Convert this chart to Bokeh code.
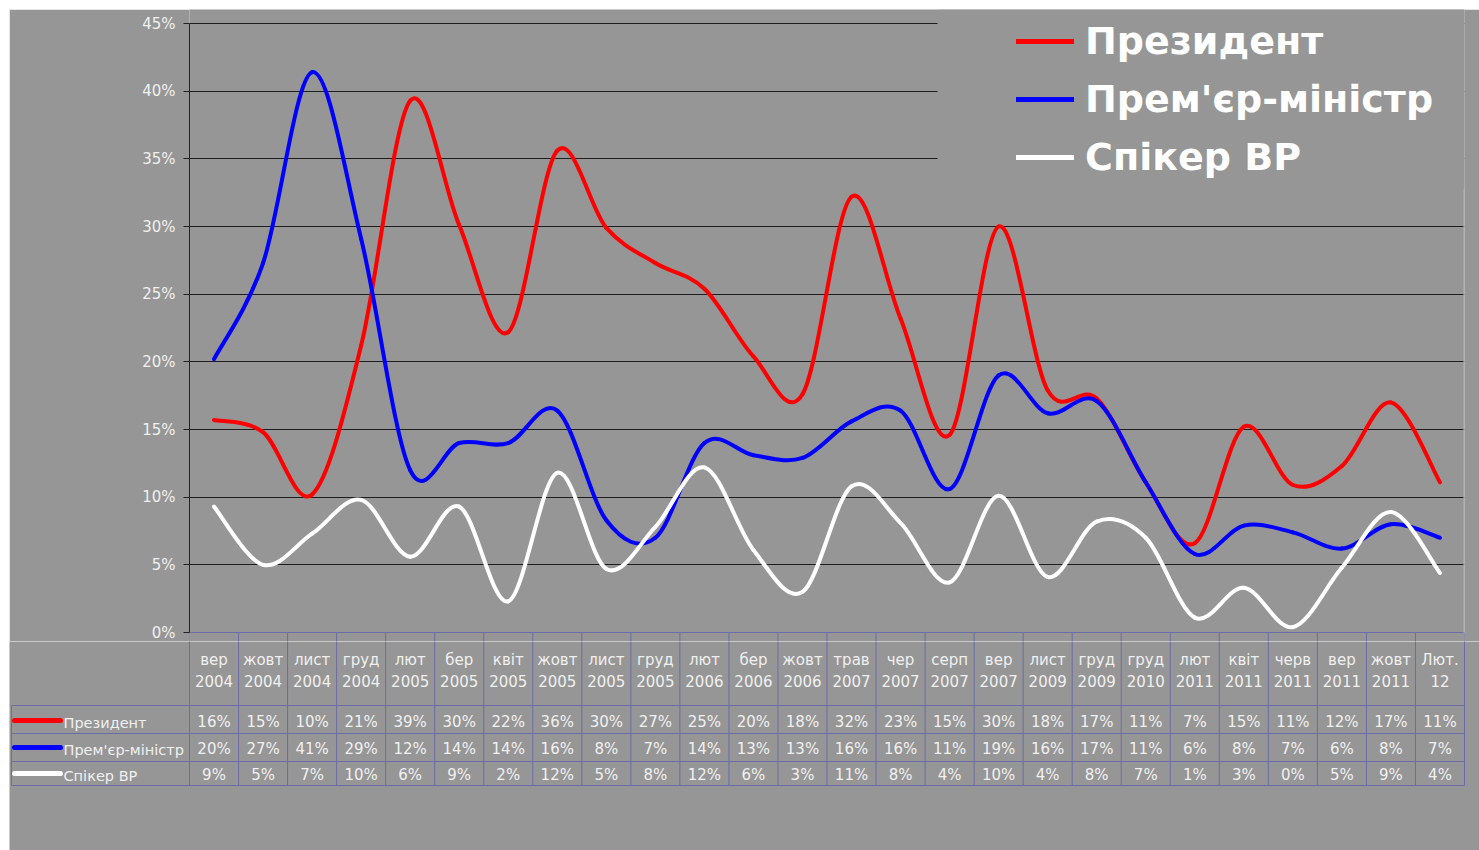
from bokeh.plotting import figure
from bokeh.models import (Range1d, FixedTicker, PrintfTickFormatter, Legend,
                          LegendItem, BoxAnnotation, ColumnDataSource)
from bokeh.embed import file_html
from bokeh.resources import INLINE
from bokeh.core.properties import value

# ---------------- data ----------------
categories = ["вер 2004", "жовт 2004", "лист 2004", "груд 2004", "лют 2005",
              "бер 2005", "квіт 2005", "жовт 2005", "лист 2005", "груд 2005",
              "лют 2006", "бер 2006", "жовт 2006", "трав 2007", "чер 2007",
              "серп 2007", "вер 2007", "лист 2009", "груд 2009", "груд 2010",
              "лют 2011", "квіт 2011", "черв 2011", "вер 2011", "жовт 2011",
              "Лют. 12"]

president = [15.7, 14.8, 10.2, 21.2, 39.3, 30.1, 22.2, 35.6, 29.9, 27.3,
             25.4, 20.4, 17.6, 32.2, 23.2, 14.6, 30.0, 17.9, 17.3, 11.1,
             6.6, 15.2, 10.9, 12.3, 17.0, 11.1]
premier = [20.2, 27.3, 41.4, 29.1, 12.0, 14.0, 14.0, 16.4, 8.3, 7.0,
           14.0, 13.1, 12.9, 15.6, 16.4, 10.6, 19.0, 16.2, 17.1, 11.1,
           5.8, 7.9, 7.4, 6.2, 8.0, 7.0]
speaker = [9.3, 5.0, 7.3, 9.8, 5.6, 9.3, 2.3, 11.8, 4.7, 7.8,
           12.2, 6.1, 3.0, 10.8, 8.1, 3.7, 10.1, 4.1, 8.2, 7.0,
           1.1, 3.3, 0.4, 4.8, 8.9, 4.4]

series_names = ["Президент", "Прем'єр-міністр", "Спікер ВР"]
series_values = [president, premier, speaker]
series_colors = ["#ff0000", "#0000ff", "#ffffff"]

y_ticks = [0, 5, 10, 15, 20, 25, 30, 35, 40, 45]

# ---------------- styling / layout ----------------
BG = "#969696"
TXT = "#f0f0f0"
TABLE_LINE = "#6c6ca8"
FONT = "DejaVu Sans"

OFF = 9                    # white strip at top/left of the original
FIG_W = 1470
FRAME_L = 180
FRAME_R = 15
TOP_PAD = 14               # px above the 45% line
PLOT_H = 609               # 45% .. 0% in pixels
EXTRA = 9                  # strip below 0% kept inside the chart figure
FIG_A_H = TOP_PAD + PLOT_H + EXTRA
FIG_B_H = 850 - OFF - FIG_A_H
FRAME_W = FIG_W - FRAME_L - FRAME_R
N = len(categories)
K = FRAME_W / N            # px per category
Y_MAX = y_ticks[-1]
PX_PER_Y = PLOT_H / Y_MAX
X0_PX = OFF + FRAME_L      # canvas x of frame left (189)
Y0_PX = OFF + TOP_PAD + PLOT_H   # canvas y of the 0% line (632)
Y_EXTRA = EXTRA / PX_PER_Y
Y_TOP_PAD = TOP_PAD / PX_PER_Y


def px_to_x(px):
    return 0.5 + (px - X0_PX) / K


def smooth_segments(ys):
    """Excel-like smoothed line: Catmull-Rom -> cubic Bezier control points."""
    n = len(ys)
    xs = [i + 1 for i in range(n)]
    d = dict(x0=[], y0=[], x1=[], y1=[], cx0=[], cy0=[], cx1=[], cy1=[])
    for i in range(n - 1):
        im, ip2 = max(i - 1, 0), min(i + 2, n - 1)
        d["x0"].append(xs[i]); d["y0"].append(ys[i])
        d["x1"].append(xs[i + 1]); d["y1"].append(ys[i + 1])
        d["cx0"].append(xs[i] + (xs[i + 1] - xs[im]) / 6)
        d["cy0"].append(ys[i] + (ys[i + 1] - ys[im]) / 6)
        d["cx1"].append(xs[i + 1] - (xs[ip2] - xs[i]) / 6)
        d["cy1"].append(ys[i + 1] - (ys[ip2] - ys[i]) / 6)
    return ColumnDataSource(d)


# ---------------- chart ----------------
pA = figure(width=FIG_W, height=FIG_A_H, x_range=Range1d(0.5, N + 0.5),
            y_range=Range1d(-Y_EXTRA, Y_MAX + Y_TOP_PAD), x_axis_location=None,
            output_backend="svg", toolbar_location=None,
            min_border_left=FRAME_L, min_border_right=FRAME_R,
            min_border_top=0, min_border_bottom=0)
pA.margin = (OFF, 0, 0, OFF)
pA.background_fill_color = BG
pA.border_fill_color = BG
pA.outline_line_color = None
pA.xgrid.visible = False

pA.yaxis.ticker = FixedTicker(ticks=y_ticks)
pA.yaxis.bounds = (0, Y_MAX)
pA.yaxis.formatter = PrintfTickFormatter(format="%d%%")
pA.yaxis.axis_line_color = "#222222"
pA.yaxis.major_tick_line_color = "#222222"
pA.yaxis.major_tick_out = 6
pA.yaxis.major_tick_in = 0
pA.yaxis.minor_tick_line_color = None
pA.yaxis.major_label_text_font = FONT
pA.yaxis.major_label_text_font_size = "15px"
pA.yaxis.major_label_text_color = TXT
pA.yaxis.major_label_standoff = 8

pA.ygrid.ticker = FixedTicker(ticks=y_ticks[1:])
pA.ygrid.grid_line_color = "#1e1e1e"
pA.ygrid.grid_line_width = 1

# top of the data table (falls inside the chart figure)
xb = [0.5 + i for i in range(N + 1)]
pA.segment(x0=xb, y0=[0] * len(xb), x1=xb, y1=[-Y_EXTRA * 2] * len(xb),
           line_color=TABLE_LINE, line_width=1)
pA.segment(x0=[0.5], y0=[0], x1=[N + 0.5], y1=[0],
           line_color=TABLE_LINE, line_width=1)

for vals, col in zip(series_values, series_colors):
    pA.bezier(x0="x0", y0="y0", x1="x1", y1="y1", cx0="cx0", cy0="cy0",
              cx1="cx1", cy1="cy1", source=smooth_segments(vals),
              line_color=col, line_width=4, line_cap="round")

# gray panel behind the legend (hides gridlines, as in the original)
legend_bottom_px = 188
cover_bottom = (Y0_PX - legend_bottom_px) / PX_PER_Y
pA.add_layout(BoxAnnotation(left=px_to_x(937), bottom=cover_bottom,
                            fill_color=BG, fill_alpha=1.0, line_color=None))
# light right edge of the plot area below the legend
pA.segment(x0=[N + 0.5], y0=[0], x1=[N + 0.5], y1=[cover_bottom],
           line_color="#b4b4b4", line_width=2)

leg_items = []
for name, col, vals in zip(series_names, series_colors, series_values):
    r = pA.line(x=[1], y=[vals[0]], line_color=col, line_width=5,
                line_cap="round")
    leg_items.append(LegendItem(label=name, renderers=[r]))

legend = Legend(items=leg_items,
                location=(1016 - X0_PX, Y0_PX + EXTRA - legend_bottom_px + 8),
                orientation="vertical",
                glyph_width=58, glyph_height=46, label_height=46,
                label_standoff=11, spacing=12, padding=8, margin=0,
                background_fill_color=BG, background_fill_alpha=1.0,
                border_line_color=None,
                label_text_font=FONT, label_text_font_style="bold",
                label_text_font_size="38px", label_text_color="#ffffff")
pA.add_layout(legend)

# ---------------- data table ----------------
TOP = EXTRA                # table y coordinate (px below the 0% line) at pB top
pB = figure(width=FIG_W, height=FIG_B_H,
            x_range=Range1d(px_to_x(OFF), px_to_x(OFF + FIG_W)),
            y_range=Range1d(TOP + FIG_B_H, TOP),
            x_axis_location=None, y_axis_location=None,
            output_backend="svg", toolbar_location=None, min_border=0)
pB.margin = (0, 0, 0, OFF)
pB.background_fill_color = BG
pB.border_fill_color = BG
pB.outline_line_color = None
pB.grid.visible = False

HEADER_B = 73
ROW_B = [101, 129, 153]
ROW_TEXT_Y = [89, 116, 142]
LEFT_X = px_to_x(11)

pB.segment(x0=xb, y0=[0] * len(xb), x1=xb, y1=[ROW_B[-1]] * len(xb),
           line_color=TABLE_LINE, line_width=1)
pB.segment(x0=[LEFT_X], y0=[HEADER_B], x1=[LEFT_X], y1=[ROW_B[-1]],
           line_color=TABLE_LINE, line_width=1)
hy = [HEADER_B] + ROW_B
pB.segment(x0=[LEFT_X] * len(hy), y0=hy, x1=[N + 0.5] * len(hy), y1=hy,
           line_color=TABLE_LINE, line_width=1)

cx = [i + 1 for i in range(N)]
top_lbl = [c.split(" ")[0] for c in categories]
bot_lbl = [c.split(" ")[1] for c in categories]
common = dict(text_font=value(FONT), text_font_size=value("15px"),
              text_color=TXT, text_align="center", text_baseline="middle")
pB.text(x=cx, y=[27] * N, text=top_lbl, **common)
pB.text(x=cx, y=[48] * N, text=bot_lbl, **common)

for vals, ty in zip(series_values, ROW_TEXT_Y):
    pB.text(x=cx, y=[ty] * N, text=[f"{round(v):d}%" for v in vals], **common)

# row headers with legend keys
for name, col, ty in zip(series_names, series_colors, ROW_TEXT_Y):
    pB.segment(x0=[px_to_x(14)], y0=[ty - 1], x1=[px_to_x(60)], y1=[ty - 1],
               line_color=col, line_width=5, line_cap="round")
    pB.text(x=[px_to_x(63)], y=[ty + 1], text=[name], text_font=value(FONT),
            text_font_size=value("14.5px"), text_color=TXT, text_align="left",
            text_baseline="middle")

open("out.html", "w").write(file_html([pA, pB], INLINE))
